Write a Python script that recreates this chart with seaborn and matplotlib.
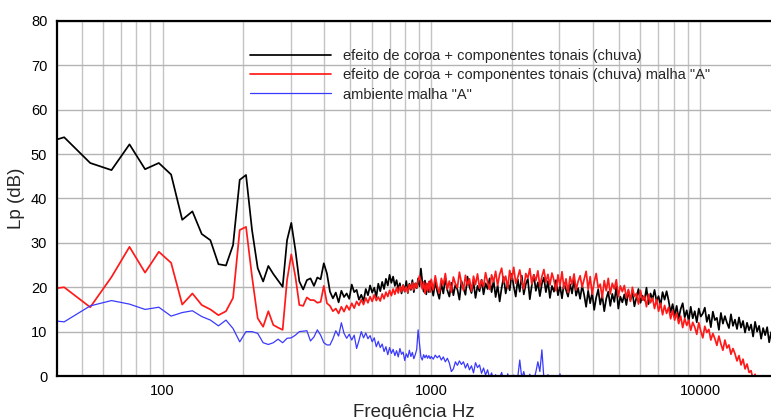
import numpy as np
import pandas as pd
import matplotlib
matplotlib.use("Agg")
import matplotlib.pyplot as plt
import seaborn as sns
from matplotlib.ticker import MultipleLocator, LogLocator, FuncFormatter, NullFormatter


# FFT bin width of the measurement (44.1 kHz / 4096)
BIN_HZ = 10.766
# below 1 kHz one value per bin (bins 3..92 -> 32 Hz .. 990 Hz)
LOW_BINS = np.arange(3, 93)
# above 1 kHz the spectra are too dense to read bin by bin, read on a log grid
HIGH_F_START = 1000
HIGH_F_STOP = 18400
HIGH_N = 170

LABEL_BLACK = "efeito de coroa + componentes tonais (chuva)"
LABEL_RED = 'efeito de coroa + componentes tonais (chuva) malha "A"'
LABEL_BLUE = 'ambiente malha "A"'

# Lp (dB), bins 3..92
black_low = [
    51.5, 53.8, 48.0, 46.4, 52.2, 46.6, 48.0, 45.4, 35.2, 37.1,
    32.0, 30.6, 25.2, 24.9, 29.5, 44.2, 45.3, 32.9, 24.3, 21.3,
    24.8, 23.0, 21.5, 20.1, 30.6, 34.5, 28.4, 21.3, 19.5, 21.6,
    22.0, 20.3, 22.2, 21.8, 25.4, 23.1, 19.0, 17.5, 18.8, 16.6,
    19.2, 17.8, 18.6, 17.4, 20.6, 18.9, 19.4, 17.2, 18.3, 16.9,
    19.6, 18.2, 20.4, 18.8, 19.9, 17.8, 20.8, 19.1, 21.2, 19.6,
    21.9, 20.4, 22.8, 21.0, 22.4, 20.3, 21.6, 19.5, 20.9, 18.6,
    20.5, 19.0, 21.4, 18.7, 20.8, 19.4, 21.6, 18.9, 20.9, 19.8,
    22.0, 20.2, 24.2, 21.3, 19.0, 21.5, 18.4, 20.7, 18.9, 21.4,
]
red_low = [
    19.0, 20.0, 15.5, 22.3, 29.1, 23.3, 28.0, 25.5, 16.1, 18.6,
    16.0, 15.0, 13.7, 14.6, 17.6, 32.9, 33.6, 22.4, 13.0, 11.1,
    14.6, 11.5, 10.9, 10.4, 21.6, 27.4, 22.4, 16.0, 15.8, 17.7,
    17.1, 17.1, 16.5, 16.7, 20.3, 16.4, 15.8, 14.6, 15.2, 14.1,
    15.6, 14.5, 15.9, 14.9, 16.4, 15.3, 16.8, 15.9, 17.2, 16.1,
    17.6, 16.5, 17.9, 16.8, 18.3, 17.0, 17.8, 16.9, 18.5, 17.4,
    18.9, 17.9, 19.3, 18.1, 19.6, 18.4, 19.9, 18.7, 20.2, 19.0,
    20.4, 19.1, 20.1, 18.8, 20.6, 19.6, 21.0, 19.4, 20.8, 19.9,
    21.5, 22.6, 21.0, 19.6, 21.2, 18.6, 20.9, 19.2, 21.3, 18.9,
]
blue_low = [
    13.0, 12.2, 15.8, 17.0, 16.2, 15.0, 15.5, 13.5, 14.3, 14.7,
    13.4, 12.6, 11.3, 12.6, 10.7, 7.7, 10.0, 10.0, 9.6, 7.5,
    7.1, 7.5, 8.3, 7.5, 8.5, 8.6, 9.2, 10.0, 10.1, 10.2,
    7.9, 8.8, 10.4, 9.2, 7.5, 7.0, 7.0, 8.4, 10.2, 9.0,
    12.0, 9.6, 8.5, 9.4, 8.1, 9.2, 6.2, 8.0, 10.0, 8.6,
    9.7, 8.4, 9.1, 7.7, 8.6, 6.6, 7.8, 6.4, 7.2, 5.5,
    6.6, 4.8, 6.4, 5.1, 6.0, 4.6, 5.7, 4.3, 6.2, 4.9,
    5.4, 3.5, 5.0, 4.2, 5.8, 4.4, 5.3, 3.9, 4.8, 6.0,
    10.4, 7.2, 4.3, 3.6, 4.8, 4.1, 4.7, 4.0, 4.6, 3.9,
]

# Lp (dB) on the 1 kHz .. 18.4 kHz log grid
black_high = [
    20.4, 18.1, 21.3, 19.0, 17.4, 20.8, 18.6, 22.1, 19.3, 17.9,
    21.0, 18.2, 20.6, 19.5, 17.2, 21.4, 19.8, 18.3, 22.4, 20.1,
    18.7, 21.2, 17.6, 20.3, 19.1, 21.7, 18.4, 20.9, 19.6, 22.0,
    18.9, 21.5, 17.8, 20.4, 16.8, 19.9, 22.3, 18.6, 21.0, 19.3,
    23.0, 20.2, 17.9, 21.8, 19.0, 22.6, 18.4, 20.7, 21.9, 17.3,
    20.5, 22.8, 19.2, 21.1, 18.0, 20.8, 22.2, 18.9, 21.4, 17.6,
    20.3, 19.0, 21.6, 18.2, 20.3, 17.5, 21.0, 19.4, 17.9, 20.7,
    18.6, 21.9, 18.1, 19.8, 17.4, 20.4, 18.3, 15.6, 19.2, 16.4,
    18.8, 14.9, 17.7, 19.5, 16.1, 18.2, 14.6, 17.4, 19.0, 15.8,
    18.5, 16.7, 20.1, 15.2, 17.9, 16.6, 18.4, 16.0, 19.2, 17.1,
    18.8, 15.7, 17.6, 19.6, 16.5, 18.1, 17.0, 19.9, 16.2, 18.6,
    17.3, 19.4, 16.8, 18.0, 15.9, 18.9, 17.2, 19.1, 17.0, 14.3,
    16.2, 13.6, 15.8, 12.9, 15.1, 16.4, 13.2, 14.8, 12.4, 15.6,
    13.0, 14.6, 12.1, 15.2, 13.4, 14.1, 15.4, 12.2, 13.8, 11.0,
    14.5, 12.6, 13.1, 10.4, 14.2, 11.8, 13.5, 12.0, 10.8, 13.9,
    11.3, 12.7, 10.6, 13.2, 10.9, 12.4, 9.8, 12.0, 10.3, 11.6,
    8.9, 12.2, 10.0, 11.3, 8.4, 10.8, 9.2, 11.0, 7.6, 9.9,
]
red_high = [
    21.8, 19.4, 22.6, 20.1, 18.7, 22.0, 20.5, 23.1, 19.6, 21.4,
    18.9, 22.3, 20.8, 19.9, 23.4, 21.0, 19.3, 22.7, 20.4, 21.9,
    19.1, 22.5, 20.6, 23.0, 19.8, 21.6, 20.2, 23.3, 21.1, 19.5,
    22.8, 21.2, 23.6, 20.4, 22.9, 24.3, 21.0, 22.5, 19.8, 23.8,
    21.7, 24.5, 20.9, 22.2, 23.9, 21.3, 19.6, 23.1, 22.0, 24.2,
    20.7, 22.8, 21.5, 23.7, 20.2, 22.4, 24.0, 21.1, 22.9, 20.5,
    23.2, 21.6, 19.2, 22.8, 20.3, 23.5, 19.7, 21.9, 18.8, 22.4,
    20.6, 23.0, 19.4, 21.3, 22.6, 20.0, 21.8, 23.6, 19.5, 22.4,
    18.4, 21.2, 23.1, 19.8, 20.7, 17.6, 21.5, 19.2, 22.0, 18.5,
    20.9, 19.6, 21.7, 17.9, 20.3, 19.0, 20.4, 17.6, 19.5, 16.8,
    20.0, 17.9, 18.6, 16.2, 19.3, 17.1, 18.0, 15.6, 18.4, 16.5,
    17.6, 15.2, 17.3, 14.6, 16.4, 13.8, 15.9, 14.1, 15.5, 12.9,
    14.8, 12.6, 14.2, 11.8, 13.5, 10.9, 13.0, 11.4, 12.6, 10.3,
    12.1, 11.0, 9.4, 12.0, 10.1, 8.6, 11.2, 9.8, 10.5, 8.1,
    9.6, 8.4, 6.9, 9.0, 7.2, 5.8, 8.1, 6.3, 7.0, 4.9,
    6.2, 5.0, 3.4, 4.6, 2.5, 3.8, 1.6, 2.7, 0.8, 1.2,
    -0.8, 0.4, -1.9, -1.2, -3.0, -2.4, -4.1, -3.6, -5.0, -5.5,
]
# blue drops out of the plot above ~3 kHz
blue_high = [
    4.4, 3.8, 4.7, 4.1, 4.6, 3.6, 4.3, 3.2, 4.0, 2.9,
    1.0, 1.6, 3.2, 2.4, 3.4, 2.6, 3.2, 1.8, 2.8, 1.4,
    2.3, 0.7, 3.0, 1.9, 2.5, 0.6, 1.8, 0.2, 1.4, -0.5,
    0.7, -1.0, 0.3, -1.5, -0.4, 0.8, -1.2, -2.0, 0.5, -0.8,
    -1.6, 0.2, -1.0, -0.3, 3.6, -0.5, 1.0, -1.2, -0.6, 0.4,
    -1.5, -0.9, 0.9, 3.2, 1.0, 5.9, -0.6, -1.4, 0.3, -1.0,
    -2.0, -0.8, -1.6, -2.2, 0.5, -1.8,
]

X_TICKS = [100, 1000, 10000]
Y_MAX = 80


def series_frame(low, high):
    freq_low = BIN_HZ * LOW_BINS
    freq_high = np.geomspace(HIGH_F_START, HIGH_F_STOP, HIGH_N)[:len(high)]
    return pd.DataFrame({
        "freq": np.concatenate([freq_low, freq_high]),
        "lp": np.concatenate([low, high]),
    })


def main():
    sns.set_style("white")
    plt.rcParams["font.family"] = ["Liberation Sans", "DejaVu Sans"]

    fig = plt.figure(figsize=(7.71, 4.19), dpi=100)
    ax = fig.add_axes([57 / 771, 43 / 419, 714 / 771, 355 / 419])

    curves = [
        (black_low, black_high, "black", 1.25, LABEL_BLACK),
        (red_low, red_high, "#ff1a1a", 1.25, LABEL_RED),
        (blue_low, blue_high, "#3a3aff", 0.9, LABEL_BLUE),
    ]
    for low, high, color, lw, label in curves:
        df = series_frame(low, high)
        sns.lineplot(data=df, x="freq", y="lp", color=color, lw=lw,
                     label=label, estimator=None, sort=False, ax=ax)

    ax.set_xscale("log")
    ax.set_xlim(40.5, 18370)
    ax.set_ylim(0, Y_MAX)

    ax.xaxis.set_major_locator(LogLocator(base=10))
    ax.xaxis.set_minor_locator(LogLocator(base=10, subs=np.arange(2, 10)))
    ax.xaxis.set_major_formatter(FuncFormatter(lambda v, p: f"{v:.0f}"))
    ax.xaxis.set_minor_formatter(NullFormatter())
    ax.set_xticks(X_TICKS)
    ax.yaxis.set_major_locator(MultipleLocator(10))
    ax.yaxis.set_minor_locator(MultipleLocator(2))

    ax.set_axisbelow(True)
    ax.grid(which="major", axis="y", color="#b4b4b4", lw=1.0)
    ax.grid(which="both", axis="x", color="#c4c4c4", lw=1.0)

    ax.tick_params(which="major", direction="in", length=9, width=1.3,
                   labelsize=10.5, top=False, right=False, colors="black")
    ax.tick_params(which="minor", direction="in", length=4.5, width=1.0,
                   top=False, right=False)
    ax.tick_params(axis="y", pad=7)
    ax.tick_params(axis="x", pad=6)

    for side in ["left", "bottom", "top"]:
        ax.spines[side].set_color("black")
        ax.spines[side].set_linewidth(1.6)
    ax.spines["right"].set_visible(False)

    ax.set_xlabel("Frequência Hz", fontsize=13.5, labelpad=4)
    ax.set_ylabel("Lp (dB)", fontsize=13.5, labelpad=4)

    ax.legend(loc="upper left", bbox_to_anchor=(0.27, 0.921), frameon=False,
              fontsize=10.5, handlelength=5.6, handletextpad=0.8,
              labelspacing=0.36, borderpad=0, borderaxespad=0)

    fig.savefig("out.png", dpi=100)
    plt.close(fig)


if __name__ == "__main__":
    main()
